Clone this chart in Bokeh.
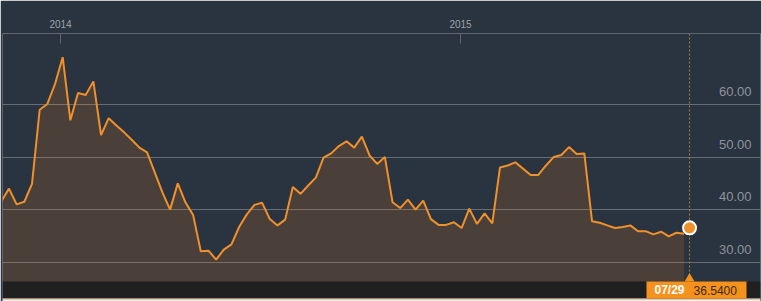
import pandas as pd
from bokeh.plotting import figure
from bokeh.models import (FixedTicker, CustomJSTickFormatter, Span, BoxAnnotation,
                          Grid, Range1d, ColumnDataSource)
from bokeh.core.properties import value
from bokeh.embed import file_html
from bokeh.resources import INLINE

# ---------------- data ----------------
start_date = "2013-11-08"          # first weekly observation
prices = [41.6, 44.0, 41.0, 41.5, 44.9, 59.0, 60.1, 63.9, 69.0, 57.0,
          62.2, 61.8, 64.4, 54.2, 57.4, 56.0, 54.7, 53.3, 51.8, 50.9,
          47.1, 43.3, 40.0, 45.0, 41.4, 39.0, 32.1, 32.2, 30.5, 32.4,
          33.4, 36.7, 39.1, 40.9, 41.3, 38.2, 37.0, 38.1, 44.3, 43.0,
          44.6, 46.1, 49.9, 50.7, 52.1, 53.0, 51.8, 53.9, 50.3, 48.7,
          50.0, 41.4, 40.3, 41.9, 40.0, 41.7, 38.2, 37.1, 37.1, 37.6,
          36.5, 40.2, 37.3, 39.3, 37.4, 48.0, 48.4, 49.0, 47.8, 46.6,
          46.6, 48.4, 50.0, 50.4, 51.9, 50.6, 50.7, 37.8, 37.5, 37.0,
          36.5, 36.7, 37.0, 35.9, 35.9, 35.3, 35.8, 34.9, 35.6, 35.4]
year_ticks = ["2014-01-01", "2015-01-01"]
y_ticks = [30, 40, 50, 60]
y_tick_labels = ["30.00", "40.00", "50.00", "60.00"]
marker_date = "2015-07-29"
marker_label = "07/29"
marker_value = 36.54

dates = pd.date_range(start_date, periods=len(prices), freq="7D")

# ---------------- layout helpers ----------------
W, H = 761, 301
FRAME_L, FRAME_R, FRAME_T, FRAME_B = 2, 760, 33, 301
t2014 = pd.Timestamp(year_ticks[0])
px_per_day = 400.0 / 365.0
px_per_unit = 5.257


def x_at(px):
    return t2014 + pd.Timedelta(days=(px - 60) / px_per_day)


def y_at(py):
    return 60 - (py - 104) / px_per_unit


x_start, x_end = x_at(FRAME_L), x_at(FRAME_R)
y_top, y_bot = y_at(FRAME_T), y_at(FRAME_B)
band_top, band_bot = y_at(281), y_at(298)

BG = "#2a3340"
ORANGE = "#f0902a"
GRID = "#676d76"

p = figure(width=W, height=H, x_axis_type="datetime", x_axis_location="above",
           y_axis_location=None,
           x_range=Range1d(x_start, x_end), y_range=Range1d(y_bot, y_top),
           min_border_left=FRAME_L, min_border_right=W - FRAME_R,
           min_border_top=FRAME_T, min_border_bottom=0,
           background_fill_color=BG, border_fill_color=BG,
           outline_line_color=None, toolbar_location=None, output_backend="svg")

p.xgrid.grid_line_color = None
p.ygrid.grid_line_color = None
p.add_layout(Grid(dimension=1, ticker=FixedTicker(ticks=y_ticks),
                  grid_line_color=GRID, grid_line_width=1))

def ms(t):
    return pd.Timestamp(t).value / 1e6

ax = p.xaxis[0]
ax.ticker = FixedTicker(ticks=[ms(x_start)] + [ms(t) for t in year_ticks] + [ms(x_end)])
ax.formatter = CustomJSTickFormatter(code="""
const d = new Date(tick);
if (d.getUTCMonth() === 0 && d.getUTCDate() === 1 && d.getUTCHours() === 0) {
  return String(d.getUTCFullYear());
}
return '';
""")
ax.axis_line_color = "#5f666f"
ax.major_tick_line_color = "#5f666f"
ax.major_tick_in = 10
ax.major_tick_out = 0
ax.minor_tick_in = 0
ax.minor_tick_out = 0
ax.major_label_text_color = "#9ea3a9"
ax.major_label_text_font = "Liberation Sans"
ax.major_label_text_font_size = "10px"
ax.major_label_standoff = 6

# vertical dotted cursor line
p.add_layout(Span(location=ms(marker_date), dimension="height", line_color="#a5832f",
                  line_dash="2 2", line_width=1, level="underlay"))
# dark bottom band
p.add_layout(BoxAnnotation(top=band_top, bottom=band_bot, fill_color="#202020",
                           fill_alpha=1, line_color=None, level="underlay"))
p.add_layout(BoxAnnotation(top=band_bot, fill_color="#f3f1ee", fill_alpha=1,
                           line_color=None, level="underlay"))
p.add_layout(Span(location=y_at(299), dimension="width", line_color="#e89a4a",
                  line_dash="1 1", line_width=1, level="underlay"))

src = ColumnDataSource(dict(date=dates, price=prices))
p.varea(x="date", y1=band_top, y2="price", source=src, fill_color="#f08518", fill_alpha=0.17)
p.line(x="date", y="price", source=src, line_color=ORANGE, line_width=2)

# y labels inside the plot on the right
p.text(x=[x_end] * len(y_ticks), y=y_ticks, text=y_tick_labels, text_align="right",
       text_baseline="alphabetic", x_offset=-9, y_offset=-13,
       text_font=value("Liberation Sans"), text_font_size="13px", text_color="#8e949b")

# current value marker
md = pd.Timestamp(marker_date)
p.scatter(x=[md], y=[marker_value], size=13, fill_color=ORANGE, line_color="white",
          line_width=2)

# value tag in the bottom band
p.quad(left=[x_at(646)], right=[x_at(746)], top=[band_top], bottom=[band_bot],
       fill_color="#f5921e", line_color=None)
p.scatter(x=[md], y=[y_at(278.2)], marker="triangle", size=10, fill_color="#f5921e",
          line_color=None)
p.text(x=[md], y=[y_at(289.8)], text=[marker_label], text_align="right",
       text_baseline="middle", x_offset=-5, text_font=value("Liberation Sans"),
       text_font_size="12px", text_font_style="bold", text_color="white")
p.text(x=[md], y=[y_at(289.8)], text=[f"{marker_value:.4f}"], text_align="left",
       text_baseline="middle", x_offset=4, text_font=value("Liberation Sans"),
       text_font_size="12px", text_color="#3a2a18")

open("out.html", "w").write(file_html(p, INLINE))
